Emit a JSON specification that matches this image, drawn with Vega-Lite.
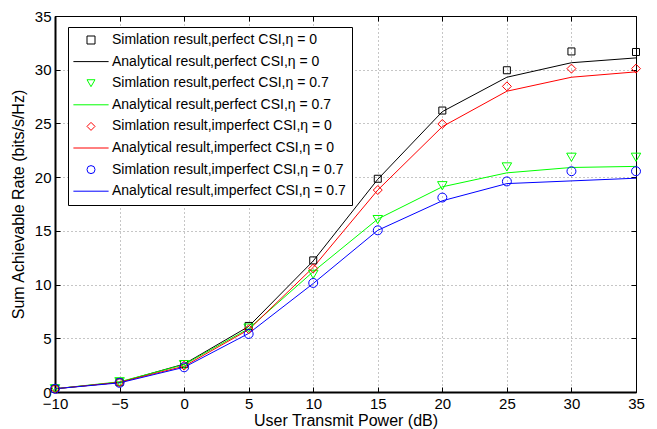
{
  "$schema": "https://vega.github.io/schema/vega-lite/v6.json",
  "width": 581,
  "height": 376,
  "autosize": "none",
  "padding": {"left": 55, "top": 16, "right": 21, "bottom": 37},
  "config": {
    "font": "Liberation Sans",
    "view": {"stroke": "#000000", "strokeWidth": 1},
    "axis": {
      "labelFont": "Liberation Sans",
      "labelFontSize": 15,
      "labelColor": "#000000",
      "titleFont": "Liberation Sans",
      "titleFontSize": 16,
      "titleFontWeight": "normal",
      "titleColor": "#000000",
      "domainColor": "#000000",
      "tickColor": "#000000",
      "tickSize": -5,
      "tickWidth": 1
    },
    "legend": {
      "orient": "none",
      "legendX": 13,
      "legendY": 11,
      "fillColor": "#ffffff",
      "strokeColor": "#000000",
      "padding": 6,
      "labelFont": "Liberation Sans",
      "labelFontSize": 14,
      "labelColor": "#000000",
      "labelOffset": 14,
      "labelLimit": 400,
      "rowPadding": 7.6,
      "symbolSize": 64,
      "symbolOffset": 10,
      "symbolStrokeWidth": 1
    }
  },
  "datasets": {
    "analytical": [
      {"x": -10, "y": 0.3, "series": "Analytical result,perfect CSI,η = 0"},
      {"x": -5, "y": 0.9, "series": "Analytical result,perfect CSI,η = 0"},
      {"x": 0, "y": 2.6, "series": "Analytical result,perfect CSI,η = 0"},
      {"x": 5, "y": 6.1, "series": "Analytical result,perfect CSI,η = 0"},
      {"x": 10, "y": 12.2, "series": "Analytical result,perfect CSI,η = 0"},
      {"x": 15, "y": 19.8, "series": "Analytical result,perfect CSI,η = 0"},
      {"x": 20, "y": 26.1, "series": "Analytical result,perfect CSI,η = 0"},
      {"x": 25, "y": 29.3, "series": "Analytical result,perfect CSI,η = 0"},
      {"x": 30, "y": 30.65, "series": "Analytical result,perfect CSI,η = 0"},
      {"x": 35, "y": 31.1, "series": "Analytical result,perfect CSI,η = 0"},
      {"x": -10, "y": 0.3, "series": "Analytical result,perfect CSI,η = 0.7"},
      {"x": -5, "y": 0.95, "series": "Analytical result,perfect CSI,η = 0.7"},
      {"x": 0, "y": 2.55, "series": "Analytical result,perfect CSI,η = 0.7"},
      {"x": 5, "y": 5.9, "series": "Analytical result,perfect CSI,η = 0.7"},
      {"x": 10, "y": 11.2, "series": "Analytical result,perfect CSI,η = 0.7"},
      {"x": 15, "y": 16.1, "series": "Analytical result,perfect CSI,η = 0.7"},
      {"x": 20, "y": 19.1, "series": "Analytical result,perfect CSI,η = 0.7"},
      {"x": 25, "y": 20.4, "series": "Analytical result,perfect CSI,η = 0.7"},
      {"x": 30, "y": 20.9, "series": "Analytical result,perfect CSI,η = 0.7"},
      {"x": 35, "y": 21.0, "series": "Analytical result,perfect CSI,η = 0.7"},
      {"x": -10, "y": 0.3, "series": "Analytical result,imperfect CSI,η = 0"},
      {"x": -5, "y": 0.9, "series": "Analytical result,imperfect CSI,η = 0"},
      {"x": 0, "y": 2.4, "series": "Analytical result,imperfect CSI,η = 0"},
      {"x": 5, "y": 5.8, "series": "Analytical result,imperfect CSI,η = 0"},
      {"x": 10, "y": 11.6, "series": "Analytical result,imperfect CSI,η = 0"},
      {"x": 15, "y": 18.8, "series": "Analytical result,imperfect CSI,η = 0"},
      {"x": 20, "y": 24.7, "series": "Analytical result,imperfect CSI,η = 0"},
      {"x": 25, "y": 28.0, "series": "Analytical result,imperfect CSI,η = 0"},
      {"x": 30, "y": 29.3, "series": "Analytical result,imperfect CSI,η = 0"},
      {"x": 35, "y": 29.8, "series": "Analytical result,imperfect CSI,η = 0"},
      {"x": -10, "y": 0.3, "series": "Analytical result,imperfect CSI,η = 0.7"},
      {"x": -5, "y": 0.85, "series": "Analytical result,imperfect CSI,η = 0.7"},
      {"x": 0, "y": 2.3, "series": "Analytical result,imperfect CSI,η = 0.7"},
      {"x": 5, "y": 5.45, "series": "Analytical result,imperfect CSI,η = 0.7"},
      {"x": 10, "y": 10.1, "series": "Analytical result,imperfect CSI,η = 0.7"},
      {"x": 15, "y": 15.05, "series": "Analytical result,imperfect CSI,η = 0.7"},
      {"x": 20, "y": 17.8, "series": "Analytical result,imperfect CSI,η = 0.7"},
      {"x": 25, "y": 19.4, "series": "Analytical result,imperfect CSI,η = 0.7"},
      {"x": 30, "y": 19.65, "series": "Analytical result,imperfect CSI,η = 0.7"},
      {"x": 35, "y": 19.9, "series": "Analytical result,imperfect CSI,η = 0.7"}
    ],
    "simulation": [
      {"x": -10, "y": 0.3, "series": "Simlation result,perfect CSI,η = 0"},
      {"x": -5, "y": 0.9, "series": "Simlation result,perfect CSI,η = 0"},
      {"x": 0, "y": 2.6, "series": "Simlation result,perfect CSI,η = 0"},
      {"x": 5, "y": 6.15, "series": "Simlation result,perfect CSI,η = 0"},
      {"x": 10, "y": 12.25, "series": "Simlation result,perfect CSI,η = 0"},
      {"x": 15, "y": 19.85, "series": "Simlation result,perfect CSI,η = 0"},
      {"x": 20, "y": 26.2, "series": "Simlation result,perfect CSI,η = 0"},
      {"x": 25, "y": 29.95, "series": "Simlation result,perfect CSI,η = 0"},
      {"x": 30, "y": 31.7, "series": "Simlation result,perfect CSI,η = 0"},
      {"x": 35, "y": 31.65, "series": "Simlation result,perfect CSI,η = 0"},
      {"x": -10, "y": 0.3, "series": "Simlation result,perfect CSI,η = 0.7"},
      {"x": -5, "y": 0.95, "series": "Simlation result,perfect CSI,η = 0.7"},
      {"x": 0, "y": 2.55, "series": "Simlation result,perfect CSI,η = 0.7"},
      {"x": 5, "y": 5.95, "series": "Simlation result,perfect CSI,η = 0.7"},
      {"x": 10, "y": 10.95, "series": "Simlation result,perfect CSI,η = 0.7"},
      {"x": 15, "y": 16.05, "series": "Simlation result,perfect CSI,η = 0.7"},
      {"x": 20, "y": 19.2, "series": "Simlation result,perfect CSI,η = 0.7"},
      {"x": 25, "y": 20.95, "series": "Simlation result,perfect CSI,η = 0.7"},
      {"x": 30, "y": 21.85, "series": "Simlation result,perfect CSI,η = 0.7"},
      {"x": 35, "y": 21.85, "series": "Simlation result,perfect CSI,η = 0.7"},
      {"x": -10, "y": 0.3, "series": "Simlation result,imperfect CSI,η = 0"},
      {"x": -5, "y": 0.9, "series": "Simlation result,imperfect CSI,η = 0"},
      {"x": 0, "y": 2.45, "series": "Simlation result,imperfect CSI,η = 0"},
      {"x": 5, "y": 5.85, "series": "Simlation result,imperfect CSI,η = 0"},
      {"x": 10, "y": 11.5, "series": "Simlation result,imperfect CSI,η = 0"},
      {"x": 15, "y": 18.8, "series": "Simlation result,imperfect CSI,η = 0"},
      {"x": 20, "y": 24.95, "series": "Simlation result,imperfect CSI,η = 0"},
      {"x": 25, "y": 28.45, "series": "Simlation result,imperfect CSI,η = 0"},
      {"x": 30, "y": 30.1, "series": "Simlation result,imperfect CSI,η = 0"},
      {"x": 35, "y": 30.1, "series": "Simlation result,imperfect CSI,η = 0"},
      {"x": -10, "y": 0.3, "series": "Simlation result,imperfect CSI,η = 0.7"},
      {"x": -5, "y": 0.85, "series": "Simlation result,imperfect CSI,η = 0.7"},
      {"x": 0, "y": 2.3, "series": "Simlation result,imperfect CSI,η = 0.7"},
      {"x": 5, "y": 5.4, "series": "Simlation result,imperfect CSI,η = 0.7"},
      {"x": 10, "y": 10.15, "series": "Simlation result,imperfect CSI,η = 0.7"},
      {"x": 15, "y": 15.05, "series": "Simlation result,imperfect CSI,η = 0.7"},
      {"x": 20, "y": 18.1, "series": "Simlation result,imperfect CSI,η = 0.7"},
      {"x": 25, "y": 19.6, "series": "Simlation result,imperfect CSI,η = 0.7"},
      {"x": 30, "y": 20.55, "series": "Simlation result,imperfect CSI,η = 0.7"},
      {"x": 35, "y": 20.55, "series": "Simlation result,imperfect CSI,η = 0.7"}
    ]
  },
  "layer": [
    {
      "data": {"name": "analytical"},
      "mark": {"type": "line", "strokeWidth": 1},
      "encoding": {
        "x": {
          "field": "x", "type": "quantitative",
          "scale": {"domain": [-10, 35], "nice": false},
          "axis": {
            "orient": "bottom",
            "title": "User Transmit Power (dB)",
            "values": [-10, -5, 0, 5, 10, 15, 20, 25, 30, 35],
            "grid": true, "gridDash": [1, 3], "gridColor": "#000000", "gridOpacity": 0.45,
            "domainWidth": 2, "labelPadding": 9, "titlePadding": 1,
            "labelFlush": false
          }
        },
        "y": {
          "field": "y", "type": "quantitative",
          "scale": {"domain": [0, 35], "nice": false},
          "axis": {
            "orient": "left",
            "title": "Sum Achievable Rate (bits/s/Hz)",
            "values": [0, 5, 10, 15, 20, 25, 30, 35],
            "grid": true, "gridDash": [1, 3], "gridColor": "#000000", "gridOpacity": 0.45,
            "domainWidth": 2, "labelPadding": 9, "titlePadding": 8,
            "labelFlush": false
          }
        },
        "stroke": {
          "field": "series", "type": "nominal",
          "scale": {
            "domain": [
              "Analytical result,perfect CSI,η = 0",
              "Analytical result,perfect CSI,η = 0.7",
              "Analytical result,imperfect CSI,η = 0",
              "Analytical result,imperfect CSI,η = 0.7"
            ],
            "range": ["#000000", "#00ff00", "#ff0000", "#0000ff"]
          },
          "legend": null
        }
      }
    },
    {
      "data": {"name": "simulation"},
      "mark": {"type": "point", "filled": false, "strokeWidth": 1, "opacity": 1},
      "encoding": {
        "x": {
          "field": "x", "type": "quantitative",
          "axis": {
            "orient": "top", "title": null, "labels": false, "grid": false, "domain": false,
            "values": [-10, -5, 0, 5, 10, 15, 20, 25, 30, 35]
          }
        },
        "y": {
          "field": "y", "type": "quantitative",
          "axis": {
            "orient": "right", "title": null, "labels": false, "grid": false, "domain": false,
            "values": [0, 5, 10, 15, 20, 25, 30, 35]
          }
        },
        "color": {
          "field": "series", "type": "nominal",
          "scale": {
            "domain": [
              "Simlation result,perfect CSI,η = 0",
              "Analytical result,perfect CSI,η = 0",
              "Simlation result,perfect CSI,η = 0.7",
              "Analytical result,perfect CSI,η = 0.7",
              "Simlation result,imperfect CSI,η = 0",
              "Analytical result,imperfect CSI,η = 0",
              "Simlation result,imperfect CSI,η = 0.7",
              "Analytical result,imperfect CSI,η = 0.7"
            ],
            "range": ["#000000", "#000000", "#00ff00", "#00ff00", "#ff0000", "#ff0000", "#0000ff", "#0000ff"]
          },
          "legend": {"title": null}
        },
        "shape": {
          "field": "series", "type": "nominal",
          "scale": {
            "domain": [
              "Simlation result,perfect CSI,η = 0",
              "Analytical result,perfect CSI,η = 0",
              "Simlation result,perfect CSI,η = 0.7",
              "Analytical result,perfect CSI,η = 0.7",
              "Simlation result,imperfect CSI,η = 0",
              "Analytical result,imperfect CSI,η = 0",
              "Simlation result,imperfect CSI,η = 0.7",
              "Analytical result,imperfect CSI,η = 0.7"
            ],
            "range": ["square", "M-4.4,0H4.4", "triangle-down", "M-4.4,0H4.4", "diamond", "M-4.4,0H4.4", "circle", "M-4.4,0H4.4"]
          },
          "legend": {"title": null}
        },
        "size": {
          "field": "series", "type": "nominal",
          "scale": {
            "type": "ordinal",
            "domain": [
              "Simlation result,perfect CSI,η = 0",
              "Simlation result,perfect CSI,η = 0.7",
              "Simlation result,imperfect CSI,η = 0",
              "Simlation result,imperfect CSI,η = 0.7"
            ],
            "range": [49, 90, 80, 80]
          },
          "legend": null
        }
      }
    }
  ],
  "resolve": {"axis": {"x": "independent", "y": "independent"}}
}
